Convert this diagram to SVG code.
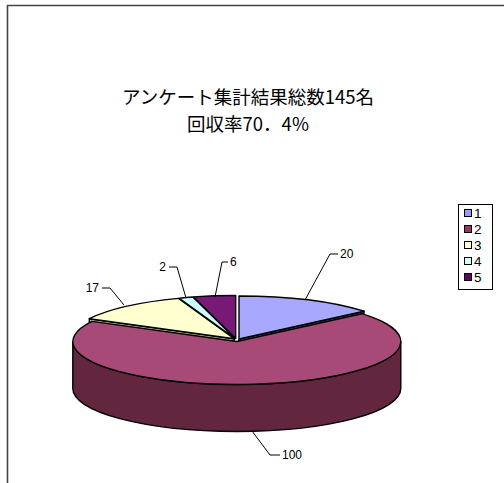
<svg xmlns="http://www.w3.org/2000/svg" width="504" height="483" viewBox="0 0 504 483">
<style>
.sl{stroke:#000;stroke-width:1.4;stroke-linejoin:round}
.ld{fill:none;stroke:#000;stroke-width:1}
.lb{font-family:"Liberation Sans",Arial,sans-serif;font-size:12px;fill:#000}
.lg{font-family:"Liberation Sans",Arial,sans-serif;font-size:13.5px;fill:#000}
.tt{font-family:"Noto Sans CJK JP","Noto Sans CJK SC",sans-serif;font-size:18.5px;fill:#000;text-anchor:middle}
.sw{stroke:#000;stroke-width:1}
</style>
<rect width="504" height="483" fill="#fff"/>
<g id="frame"><path d="M7.5,483 L7.5,5.5 L504,5.5" fill="none" stroke="#444" stroke-width="1.6"/></g>
<g id="title">
<text class="tt" x="248" y="103.5">アンケート集計結果総数145名</text>
<text class="tt" x="248" y="130.5">回収率70．4%</text>
</g>
<g id="slice1">
<path class="sl" fill="#5c5c99" d="M239,339 L364,311.2 L364,358.2 L239,386 Z"/>
<path class="sl" fill="#a8a8ff" d="M239,339 L239,296 A164,43 0 0 1 364,311.2 Z"/>
</g>
<g id="slice3">
<path class="sl" fill="#b3b38f" d="M234.2,338.8 L89.3,318.7 L89.3,365.7 L234.2,385.8 Z"/>
<path class="sl" fill="#ffffd0" d="M234.2,338.8 L89.3,318.7 A164,43 0 0 1 178.5,298.4 Z"/>
</g>
<g id="slice4">
<path class="sl" fill="#ccffff" d="M235,338.6 L179.3,298.2 A164,43 0 0 1 192.8,297 Z"/>
</g>
<g id="slice5">
<path class="sl" fill="#761a76" d="M235.7,338.5 L193.5,296.9 A164,43 0 0 1 235.7,295.5 Z"/>
</g>
<g id="slice2">
<path class="sl" fill="#62263f" d="M400.8,341.5 A164,43 0 0 1 72.8,341.5 L72.8,388.5 A164,43 0 0 0 400.8,388.5 Z"/>
<path class="sl" fill="#a84a78" d="M236.8,341.5 L361.8,313.7 A164,43 0 1 1 91.9,321.4 Z"/>
</g>
<g id="connectors">
<path class="ld" d="M305,300 L330,254 L338,254"/>
<path class="ld" d="M215,297 L222,262 L228,262"/>
<path class="ld" d="M186,298 L177,267 L169,267"/>
<path class="ld" d="M124,305 L110,288 L102,288"/>
<path class="ld" d="M252,431 L270,455 L280,455"/>
</g>
<g id="labels">
<text class="lb" x="340" y="258">20</text>
<text class="lb" x="230" y="266">6</text>
<text class="lb" x="166" y="271" text-anchor="end">2</text>
<text class="lb" x="99" y="292" text-anchor="end">17</text>
<text class="lb" x="282" y="459">100</text>
</g>
<g id="legend">
<rect x="458.5" y="204.5" width="34" height="85" fill="#fff" stroke="#000" stroke-width="1"/>
<rect class="sw" x="464.5" y="209.5" width="7" height="7" fill="#9999ff"/>
<text class="lg" x="474" y="218">1</text>
<rect class="sw" x="464.5" y="225.5" width="7" height="7" fill="#993366"/>
<text class="lg" x="474" y="234">2</text>
<rect class="sw" x="464.5" y="241.5" width="7" height="7" fill="#ffffcc"/>
<text class="lg" x="474" y="250">3</text>
<rect class="sw" x="464.5" y="257.5" width="7" height="7" fill="#ccffff"/>
<text class="lg" x="474" y="266">4</text>
<rect class="sw" x="464.5" y="273.5" width="7" height="7" fill="#660066"/>
<text class="lg" x="474" y="282">5</text>
</g>
</svg>
